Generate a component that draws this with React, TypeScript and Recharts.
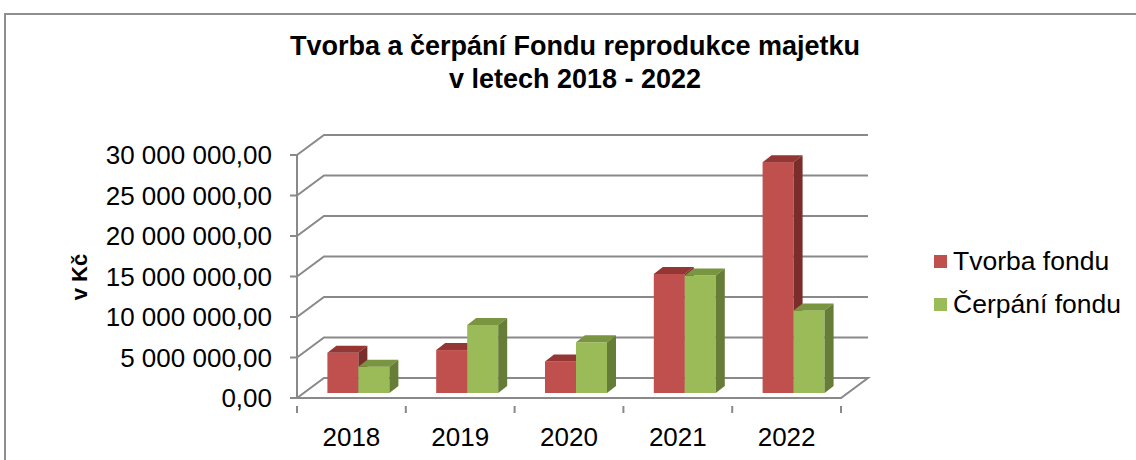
import { BarChart, Bar, XAxis, YAxis, CartesianGrid, Legend } from "recharts";

const years = ["2018", "2019", "2020", "2021", "2022"];
const tvorbaFondu = [4970000, 5300000, 3900000, 14700000, 28500000];
const cerpaniFondu = [3250000, 8400000, 6260000, 14500000, 10200000];
const yTicks = [0, 5000000, 10000000, 15000000, 20000000, 25000000, 30000000];

const data = years.map((year, i) => ({
  year,
  tvorba: tvorbaFondu[i],
  cerpani: cerpaniFondu[i],
}));

const FONT = '"Liberation Sans", Arial, sans-serif';
const GRID = "#898989";
// back wall offset of the fake 3D box
const WALL_DX = 27;
const WALL_DY = 20;
// bars sit a bit behind the front edge
const BAR_DX = 7;
const BAR_DY = 5;
// bar depth
const DEPTH_DX = 9;
const DEPTH_DY = 7;

const fmt = (v: number) =>
  Math.round(v)
    .toString()
    .replace(/\B(?=(\d{3})+(?!\d))/g, " ") + ",00";

function makeBar(top: string, side: string) {
  return (props: any) => {
    const { fill } = props;
    const x = props.x + BAR_DX;
    const y = props.y - BAR_DY;
    const w = props.width;
    const h = props.height;
    if (!h) return <g />;
    return (
      <g>
        <rect x={x} y={y} width={w} height={h} fill={fill} />
        <polygon
          points={`${x},${y} ${x + DEPTH_DX},${y - DEPTH_DY} ${x + w + DEPTH_DX},${y - DEPTH_DY} ${x + w},${y}`}
          fill={top}
        />
        <polygon
          points={`${x + w},${y} ${x + w + DEPTH_DX},${y - DEPTH_DY} ${x + w + DEPTH_DX},${y + h - DEPTH_DY} ${x + w},${y + h}`}
          fill={side}
        />
      </g>
    );
  };
}

const RedBar = makeBar("#943634", "#7a2e2c");
const GreenBar = makeBar("#79953f", "#657d36");

const gridLine = (props: any) => {
  const { x1, x2, y1, index } = props;
  const floor = index === 0;
  let d = `M${x1},${y1} L${x1 + WALL_DX},${y1 - WALL_DY} L${x2 + WALL_DX},${y1 - WALL_DY}`;
  if (floor) d += ` L${x2},${y1} L${x1},${y1}`;
  return <path key={`g-${index}`} d={d} stroke={GRID} strokeWidth={2} fill="none" />;
};

const XTick = (props: any) => {
  const { x, y, payload, index } = props;
  const half = payload.offset || 0;
  const last = index === years.length - 1;
  return (
    <g>
      <line x1={x - half} y1={y} x2={x - half} y2={y + 7} stroke={GRID} strokeWidth={2} />
      {last && <line x1={x + half} y1={y} x2={x + half} y2={y + 7} stroke={GRID} strokeWidth={2} />}
      <text x={x} y={y + 40} textAnchor="middle" fontSize={26} fill="#000" fontFamily={FONT}>
        {payload.value}
      </text>
    </g>
  );
};

const LegendContent = (props: any) => {
  const items = props.payload || [];
  return (
    <div style={{ fontFamily: FONT, fontSize: 26.5, color: "#000" }}>
      {items.map((it: any) => (
        <div key={it.value} style={{ display: "flex", alignItems: "center", height: 43 }}>
          <span style={{ width: 13, height: 13, background: it.color, marginRight: 6, display: "inline-block" }} />
          <span>{it.value}</span>
        </div>
      ))}
    </div>
  );
};

export default function App() {
  return (
    <div style={{ position: "relative", width: 1136, height: 460, background: "#fff", fontFamily: FONT }}>
      <style>{"body{margin:0}"}</style>
      <div
        style={{
          position: "absolute",
          left: 4,
          top: 13,
          right: 0,
          bottom: 0,
          borderTop: "2px solid #8f8f8f",
          borderLeft: "2px solid #8f8f8f",
        }}
      />
      <div
        style={{
          position: "absolute",
          left: 0,
          top: 30,
          width: 1150,
          textAlign: "center",
          fontWeight: "bold",
          fontSize: 27,
          lineHeight: "33px",
        }}
      >
        Tvorba a čerpání Fondu reprodukce majetku
        <br />v letech 2018 - 2022
      </div>
      <div
        style={{
          position: "absolute",
          left: 80,
          top: 277,
          transform: "translate(-50%, -50%) rotate(-90deg)",
          fontWeight: "bold",
          fontSize: 22,
          whiteSpace: "nowrap",
        }}
      >
        v Kč
      </div>
      <BarChart
        width={1136}
        height={460}
        data={data}
        margin={{ top: 155, right: 295, bottom: 22, left: 97 }}
        barCategoryGap="21.5%"
        barGap={0}
        style={{ position: "absolute", left: 0, top: 0 }}
      >
        <CartesianGrid horizontal={gridLine} vertical={false} />
        <XAxis dataKey="year" height={40} axisLine={false} tickLine={false} tick={<XTick />} interval={0} />
        <YAxis
          width={200}
          domain={[0, 30000000]}
          ticks={yTicks}
          tickFormatter={fmt}
          tickSize={7}
          tickMargin={18}
          axisLine={{ stroke: GRID, strokeWidth: 2 }}
          tickLine={{ stroke: GRID, strokeWidth: 2 }}
          tick={{ fill: "#000", fontSize: 26, fontFamily: FONT }}
          interval={0}
        />
        <Legend
          layout="vertical"
          align="center"
          verticalAlign="middle"
          content={<LegendContent />}
          wrapperStyle={{ left: 934, top: 240, width: 200 }}
        />
        <Bar dataKey="tvorba" name="Tvorba fondu" fill="#c0504d" shape={<RedBar />} isAnimationActive={false} />
        <Bar dataKey="cerpani" name="Čerpání fondu" fill="#9bbb59" shape={<GreenBar />} isAnimationActive={false} />
      </BarChart>
    </div>
  );
}
